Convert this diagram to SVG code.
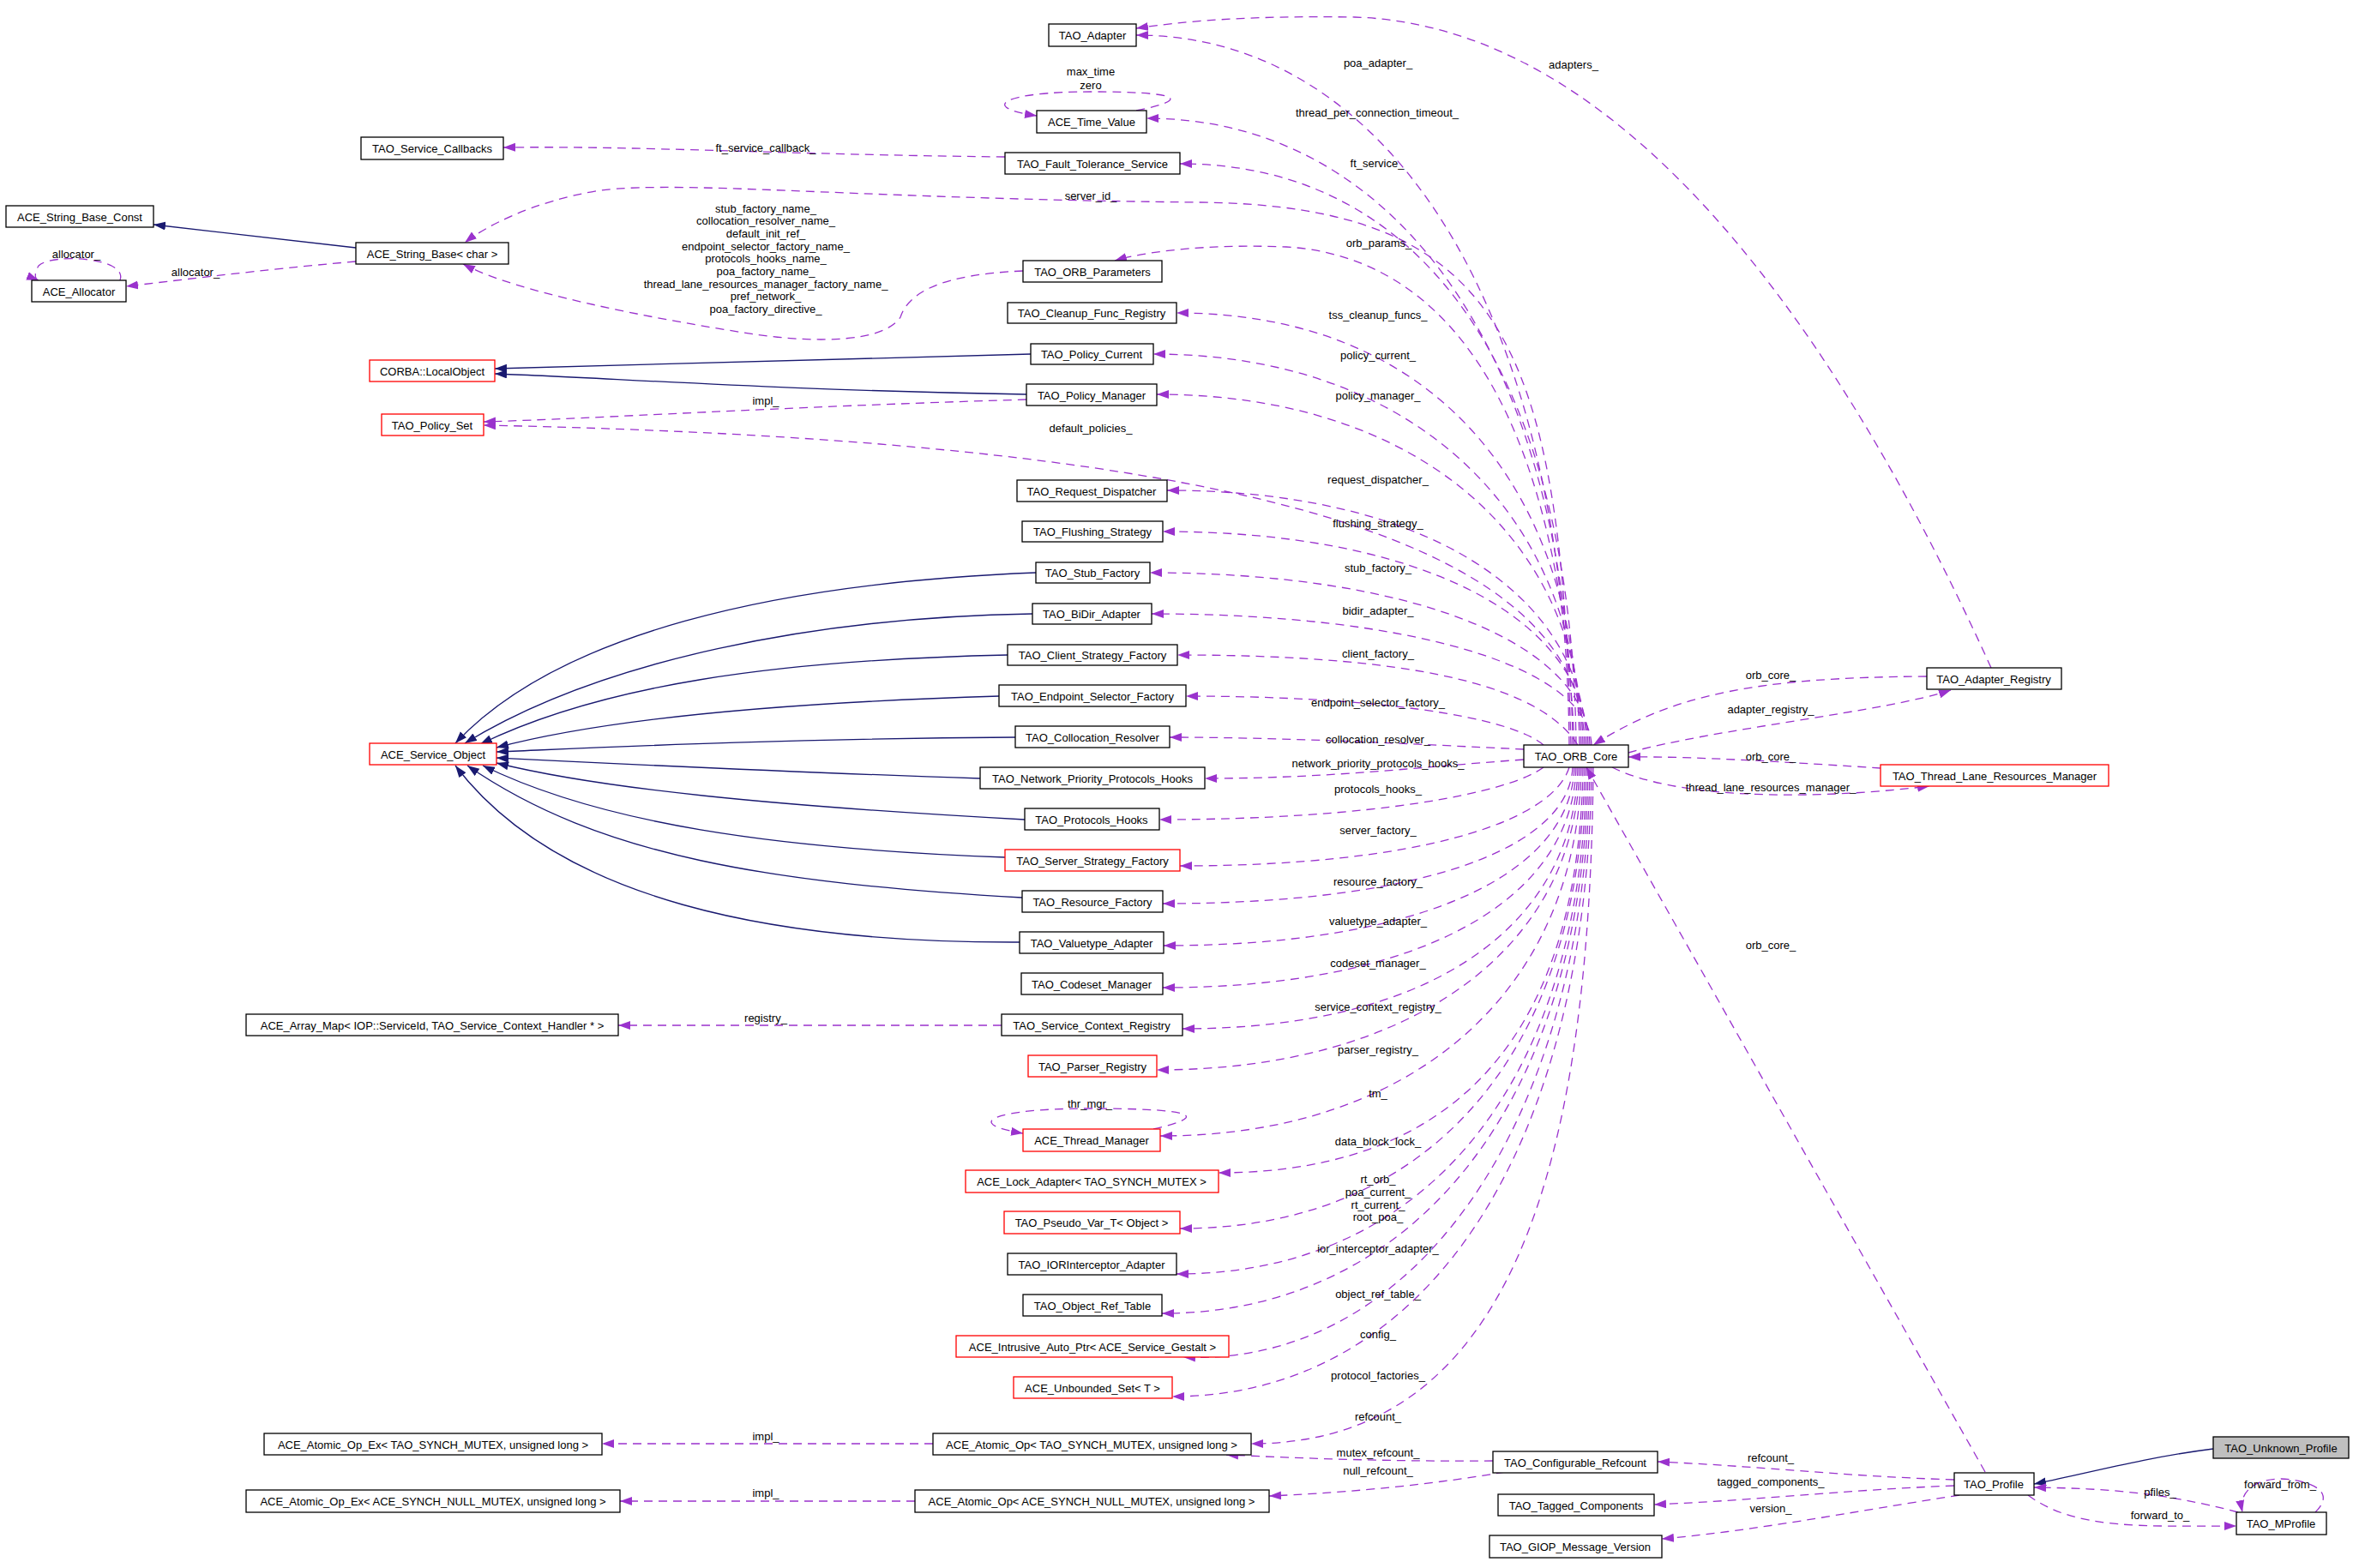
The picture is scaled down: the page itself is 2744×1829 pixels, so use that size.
<svg xmlns="http://www.w3.org/2000/svg" width="2744" height="1829" viewBox="0 0 2744 1829">
<style>
.n rect{fill:#fff;stroke:#000;stroke-width:1.3}
.r rect{stroke:#f00}
.g rect{fill:#bfbfbf}
text{font-family:"Liberation Sans",Arial,sans-serif;font-size:13px;fill:#000}
.n text{text-anchor:middle}
.l{text-anchor:middle}
.d{fill:none;stroke:#9a32cd;stroke-width:1.3;stroke-dasharray:10,7;marker-end:url(#pa)}
.s{fill:none;stroke:#191970;stroke-width:1.3;marker-end:url(#na)}
</style>
<defs>
<marker id="pa" markerUnits="userSpaceOnUse" markerWidth="15" markerHeight="11" refX="14" refY="5" orient="auto"><path d="M0,0 L14,5 L0,10 z" fill="#9a32cd"/></marker>
<marker id="na" markerUnits="userSpaceOnUse" markerWidth="15" markerHeight="11" refX="14" refY="5" orient="auto"><path d="M0,0 L14,5 L0,10 z" fill="#191970"/></marker>
</defs>
<rect width="2744" height="1829" fill="#fff"/>
<g id="edges">
<!-- inheritance -->
<path class="s" d="M415,289 L179,262"/>
<path class="s" d="M1202,413 C900,420 700,428 577,430"/>
<path class="s" d="M1197,460 C900,455 700,440 577,436"/>
<path class="s" d="M1208,668 C900,680 650,740 531,867"/>
<path class="s" d="M1204,716 C950,720 700,770 542,867"/>
<path class="s" d="M1175,764 C900,770 700,800 560,868"/>
<path class="s" d="M1165,812 C900,820 700,840 579,872"/>
<path class="s" d="M1184,860 C900,862 700,872 579,877"/>
<path class="s" d="M1143,908 C900,900 700,890 579,884"/>
<path class="s" d="M1195,956 C900,940 700,920 579,890"/>
<path class="s" d="M1172,1000 C900,990 700,960 563,893"/>
<path class="s" d="M1192,1047 C900,1030 700,1000 545,893"/>
<path class="s" d="M1189,1099 C900,1100 650,1050 531,893"/>
<path class="s" d="M2581,1690 C2500,1700 2420,1722 2372,1731"/>
<!-- ORB_Core members above -->
<path class="d" d="M1830,869 C1826,372 1625,41 1325,41"/>
<path class="d" d="M1834,869 C1830,430 1637,138 1337,138"/>
<path class="d" d="M1838,869 C1834,462 1676,191 1376,191"/>
<path class="d" d="M1832,869 C1820,400 1750,240 1400,236 C1000,232 800,210 700,222 C620,235 565,265 542,283"/>
<path class="d" d="M1836,869 C1820,500 1700,300 1500,288 C1400,284 1330,295 1300,304"/>
<path class="d" d="M1842,869 C1838,567 1672,365 1372,365"/>
<path class="d" d="M1844,869 C1840,595 1645,413 1345,413"/>
<path class="d" d="M1846,869 C1842,624 1649,460 1349,460"/>
<path class="d" d="M1848,869 C1844,645 1500,515 564,496"/>
<path class="d" d="M1850,869 C1846,691 1661,572 1361,572"/>
<path class="d" d="M1852,869 C1848,720 1656,620 1356,620"/>
<path class="d" d="M1854,869 C1850,748 1641,668 1341,668"/>
<path class="d" d="M1856,869 C1852,777 1643,716 1343,716"/>
<path class="d" d="M1840,869 C1800,806 1673,764 1373,764"/>
<path class="d" d="M1800,869 C1760,835 1600,812 1383,812"/>
<path class="d" d="M1777,874 C1650,868 1500,860 1364,860"/>
<path class="d" d="M1777,886 C1650,895 1550,908 1405,908"/>
<!-- below -->
<path class="d" d="M1800,895 C1760,925 1600,956 1352,956"/>
<path class="d" d="M1830,895 C1810,960 1650,1010 1376,1010"/>
<path class="d" d="M1834,895 C1830,990 1656,1054 1356,1054"/>
<path class="d" d="M1836,895 C1832,1020 1657,1103 1357,1103"/>
<path class="d" d="M1838,895 C1834,1050 1656,1152 1356,1152"/>
<path class="d" d="M1840,895 C1836,1073 1679,1200 1379,1200"/>
<path class="d" d="M1842,895 C1838,1104 1649,1248 1349,1248"/>
<path class="d" d="M1844,895 C1840,1151 1653,1325 1353,1325"/>
<path class="d" d="M1846,895 C1842,1179 1721,1368 1421,1368"/>
<path class="d" d="M1848,895 C1844,1218 1676,1433 1376,1433"/>
<path class="d" d="M1850,895 C1846,1250 1672,1486 1372,1486"/>
<path class="d" d="M1852,895 C1848,1277 1655,1532 1355,1532"/>
<path class="d" d="M1854,895 C1850,1308 1650,1595 1380,1583"/>
<path class="d" d="M1856,895 C1852,1335 1667,1629 1367,1629"/>
<path class="d" d="M1858,895 C1854,1368 1759,1684 1459,1684"/>
<!-- others -->
<path class="d" d="M1899,878 C2000,850 2200,830 2275,805"/>
<path class="d" d="M2247,789 C2050,790 1950,810 1858,869"/>
<path class="d" d="M2322,779 C2150,400 1900,30 1580,20 C1450,18 1380,25 1325,33"/>
<path class="d" d="M2193,896 C2100,890 1980,882 1899,883"/>
<path class="d" d="M1880,895 C1950,930 2100,935 2250,917"/>
<path class="d" d="M2315,1717 L1850,895"/>
<path class="d" d="M1741,1704 C1600,1705 1500,1700 1430,1697"/>
<path class="d" d="M1755,1717 C1650,1735 1550,1742 1480,1745"/>
<path class="d" d="M1088,1684 L702,1684"/>
<path class="d" d="M1067,1751 L723,1751"/>
<path class="d" d="M1168,1196 L721,1196"/>
<path class="d" d="M1172,183 C900,180 750,170 587,172"/>
<path class="d" d="M1197,466 C900,475 700,488 564,492"/>
<path class="d" d="M1193,316 C1100,320 1060,340 1050,370 C1030,400 950,400 880,390 C750,370 600,340 540,308"/>
<path class="d" d="M415,305 C300,315 200,328 147,334"/>
<path class="d" d="M140,327 C150,300 60,295 45,310 C40,318 40,325 45,327"/>
<path class="d" d="M1325,129 C1395,115 1370,107 1272,107 C1170,107 1140,125 1209,135"/>
<path class="d" d="M1345,1317 C1420,1300 1380,1293 1271,1293 C1160,1293 1120,1310 1193,1322"/>
<path class="d" d="M2279,1726 C2150,1722 2050,1710 1933,1705"/>
<path class="d" d="M2279,1733 C2150,1738 2050,1750 1929,1755"/>
<path class="d" d="M2285,1744 C2150,1765 2050,1785 1938,1795"/>
<path class="d" d="M2610,1764 C2520,1740 2450,1736 2372,1735"/>
<path class="d" d="M2365,1744 C2420,1785 2500,1780 2608,1780"/>
<path class="d" d="M2700,1764 C2730,1735 2680,1725 2660,1725 C2630,1725 2610,1740 2615,1764"/>
<!-- labels -->
<text class="l" x="1607" y="78">poa_adapter_</text>
<text class="l" x="1835" y="80">adapters_</text>
<text class="l" x="1272" y="88">max_time</text>
<text class="l" x="1272" y="104">zero</text>
<text class="l" x="1606" y="136">thread_per_connection_timeout_</text>
<text class="l" x="893" y="177">ft_service_callback_</text>
<text class="l" x="1606" y="195">ft_service_</text>
<text class="l" x="1272" y="233">server_id_</text>
<text class="l" x="893" y="248">stub_factory_name_</text>
<text class="l" x="893" y="262">collocation_resolver_name_</text>
<text class="l" x="893" y="277">default_init_ref_</text>
<text class="l" x="893" y="292">endpoint_selector_factory_name_</text>
<text class="l" x="893" y="306">protocols_hooks_name_</text>
<text class="l" x="893" y="321">poa_factory_name_</text>
<text class="l" x="893" y="336">thread_lane_resources_manager_factory_name_</text>
<text class="l" x="893" y="350">pref_network_</text>
<text class="l" x="893" y="365">poa_factory_directive_</text>
<text class="l" x="1608" y="288">orb_params_</text>
<text class="l" x="89" y="301">allocator_</text>
<text class="l" x="228" y="322">allocator_</text>
<text class="l" x="1607" y="372">tss_cleanup_funcs_</text>
<text class="l" x="1607" y="419">policy_current_</text>
<text class="l" x="1607" y="466">policy_manager_</text>
<text class="l" x="893" y="472">impl_</text>
<text class="l" x="1272" y="504">default_policies_</text>
<text class="l" x="1607" y="564">request_dispatcher_</text>
<text class="l" x="1607" y="615">flushing_strategy_</text>
<text class="l" x="1607" y="667">stub_factory_</text>
<text class="l" x="1607" y="717">bidir_adapter_</text>
<text class="l" x="1607" y="767">client_factory_</text>
<text class="l" x="1607" y="824">endpoint_selector_factory_</text>
<text class="l" x="1607" y="867">collocation_resolver_</text>
<text class="l" x="1607" y="895">network_priority_protocols_hooks_</text>
<text class="l" x="1607" y="925">protocols_hooks_</text>
<text class="l" x="1607" y="973">server_factory_</text>
<text class="l" x="1607" y="1033">resource_factory_</text>
<text class="l" x="1607" y="1079">valuetype_adapter_</text>
<text class="l" x="1607" y="1128">codeset_manager_</text>
<text class="l" x="1607" y="1179">service_context_registry_</text>
<text class="l" x="893" y="1192">registry_</text>
<text class="l" x="1607" y="1229">parser_registry_</text>
<text class="l" x="1607" y="1280">tm_</text>
<text class="l" x="1271" y="1292">thr_mgr_</text>
<text class="l" x="1607" y="1336">data_block_lock_</text>
<text class="l" x="1607" y="1380">rt_orb_</text>
<text class="l" x="1607" y="1395">poa_current_</text>
<text class="l" x="1607" y="1410">rt_current_</text>
<text class="l" x="1607" y="1424">root_poa_</text>
<text class="l" x="1607" y="1461">ior_interceptor_adapter_</text>
<text class="l" x="1607" y="1514">object_ref_table_</text>
<text class="l" x="1607" y="1561">config_</text>
<text class="l" x="1607" y="1609">protocol_factories_</text>
<text class="l" x="1607" y="1657">refcount_</text>
<text class="l" x="893" y="1680">impl_</text>
<text class="l" x="1607" y="1699">mutex_refcount_</text>
<text class="l" x="1607" y="1720">null_refcount_</text>
<text class="l" x="893" y="1746">impl_</text>
<text class="l" x="2065" y="792">orb_core_</text>
<text class="l" x="2065" y="832">adapter_registry_</text>
<text class="l" x="2065" y="887">orb_core_</text>
<text class="l" x="2065" y="923">thread_lane_resources_manager_</text>
<text class="l" x="2065" y="1107">orb_core_</text>
<text class="l" x="2065" y="1705">refcount_</text>
<text class="l" x="2065" y="1733">tagged_components_</text>
<text class="l" x="2065" y="1764">version_</text>
<text class="l" x="2519" y="1745">pfiles_</text>
<text class="l" x="2519" y="1772">forward_to_</text>
<text class="l" x="2659" y="1736">forward_from_</text>
</g>
<g id="TAO_Adapter" class="n"><rect x="1223" y="28" width="102" height="26"/><text x="1274" y="46">TAO_Adapter</text></g>
<g id="ACE_Time_Value" class="n"><rect x="1209" y="129" width="128" height="26"/><text x="1273" y="147">ACE_Time_Value</text></g>
<g id="TAO_Service_Callbacks" class="n"><rect x="421" y="160" width="166" height="26"/><text x="504" y="178">TAO_Service_Callbacks</text></g>
<g id="TAO_Fault_Tolerance_Service" class="n"><rect x="1172" y="178" width="204" height="25"/><text x="1274" y="196">TAO_Fault_Tolerance_Service</text></g>
<g id="ACE_String_Base_Const" class="n"><rect x="7" y="240" width="172" height="25"/><text x="93" y="258">ACE_String_Base_Const</text></g>
<g id="ACE_String_Base_char" class="n"><rect x="415" y="283" width="178" height="25"/><text x="504" y="301">ACE_String_Base&lt; char &gt;</text></g>
<g id="ACE_Allocator" class="n"><rect x="37" y="327" width="110" height="25"/><text x="92" y="345">ACE_Allocator</text></g>
<g id="TAO_ORB_Parameters" class="n"><rect x="1193" y="304" width="162" height="25"/><text x="1274" y="322">TAO_ORB_Parameters</text></g>
<g id="TAO_Cleanup_Func_Registry" class="n"><rect x="1175" y="353" width="197" height="24"/><text x="1273" y="370">TAO_Cleanup_Func_Registry</text></g>
<g id="CORBA_LocalObject" class="n r"><rect x="431" y="420" width="146" height="25"/><text x="504" y="438">CORBA::LocalObject</text></g>
<g id="TAO_Policy_Current" class="n"><rect x="1202" y="401" width="143" height="24"/><text x="1273" y="418">TAO_Policy_Current</text></g>
<g id="TAO_Policy_Manager" class="n"><rect x="1197" y="448" width="152" height="25"/><text x="1273" y="466">TAO_Policy_Manager</text></g>
<g id="TAO_Policy_Set" class="n r"><rect x="445" y="483" width="119" height="25"/><text x="504" y="501">TAO_Policy_Set</text></g>
<g id="TAO_Request_Dispatcher" class="n"><rect x="1186" y="560" width="175" height="25"/><text x="1273" y="578">TAO_Request_Dispatcher</text></g>
<g id="TAO_Flushing_Strategy" class="n"><rect x="1192" y="608" width="164" height="24"/><text x="1274" y="625">TAO_Flushing_Strategy</text></g>
<g id="TAO_Stub_Factory" class="n"><rect x="1208" y="656" width="133" height="24"/><text x="1274" y="673">TAO_Stub_Factory</text></g>
<g id="TAO_BiDir_Adapter" class="n"><rect x="1204" y="704" width="139" height="24"/><text x="1273" y="721">TAO_BiDir_Adapter</text></g>
<g id="TAO_Client_Strategy_Factory" class="n"><rect x="1175" y="752" width="198" height="24"/><text x="1274" y="769">TAO_Client_Strategy_Factory</text></g>
<g id="TAO_Endpoint_Selector_Factory" class="n"><rect x="1165" y="799" width="218" height="25"/><text x="1274" y="817">TAO_Endpoint_Selector_Factory</text></g>
<g id="ACE_Service_Object" class="n r"><rect x="431" y="867" width="148" height="25"/><text x="505" y="885">ACE_Service_Object</text></g>
<g id="TAO_Collocation_Resolver" class="n"><rect x="1184" y="847" width="180" height="25"/><text x="1274" y="865">TAO_Collocation_Resolver</text></g>
<g id="TAO_Network_Priority_Protocols_Hooks" class="n"><rect x="1143" y="895" width="262" height="25"/><text x="1274" y="913">TAO_Network_Priority_Protocols_Hooks</text></g>
<g id="TAO_Protocols_Hooks" class="n"><rect x="1195" y="943" width="157" height="25"/><text x="1273" y="961">TAO_Protocols_Hooks</text></g>
<g id="TAO_Server_Strategy_Factory" class="n r"><rect x="1172" y="991" width="204" height="25"/><text x="1274" y="1009">TAO_Server_Strategy_Factory</text></g>
<g id="TAO_ORB_Core" class="n"><rect x="1777" y="869" width="122" height="26"/><text x="1838" y="887">TAO_ORB_Core</text></g>
<g id="TAO_Resource_Factory" class="n"><rect x="1192" y="1039" width="164" height="25"/><text x="1274" y="1057">TAO_Resource_Factory</text></g>
<g id="TAO_Valuetype_Adapter" class="n"><rect x="1189" y="1087" width="168" height="25"/><text x="1273" y="1105">TAO_Valuetype_Adapter</text></g>
<g id="TAO_Codeset_Manager" class="n"><rect x="1191" y="1135" width="165" height="25"/><text x="1273" y="1153">TAO_Codeset_Manager</text></g>
<g id="ACE_Array_Map" class="n"><rect x="287" y="1183" width="434" height="25"/><text x="504" y="1201">ACE_Array_Map&lt; IOP::ServiceId, TAO_Service_Context_Handler * &gt;</text></g>
<g id="TAO_Service_Context_Registry" class="n"><rect x="1168" y="1183" width="211" height="25"/><text x="1273" y="1201">TAO_Service_Context_Registry</text></g>
<g id="TAO_Parser_Registry" class="n r"><rect x="1199" y="1231" width="150" height="25"/><text x="1274" y="1249">TAO_Parser_Registry</text></g>
<g id="ACE_Thread_Manager" class="n r"><rect x="1193" y="1317" width="160" height="26"/><text x="1273" y="1335">ACE_Thread_Manager</text></g>
<g id="ACE_Lock_Adapter" class="n r"><rect x="1126" y="1365" width="295" height="26"/><text x="1273" y="1383">ACE_Lock_Adapter&lt; TAO_SYNCH_MUTEX &gt;</text></g>
<g id="TAO_Pseudo_Var_T" class="n r"><rect x="1171" y="1413" width="205" height="26"/><text x="1273" y="1431">TAO_Pseudo_Var_T&lt; Object &gt;</text></g>
<g id="TAO_IORInterceptor_Adapter" class="n"><rect x="1175" y="1462" width="197" height="25"/><text x="1273" y="1480">TAO_IORInterceptor_Adapter</text></g>
<g id="TAO_Object_Ref_Table" class="n"><rect x="1193" y="1510" width="162" height="25"/><text x="1274" y="1528">TAO_Object_Ref_Table</text></g>
<g id="ACE_Intrusive_Auto_Ptr" class="n r"><rect x="1115" y="1558" width="318" height="25"/><text x="1274" y="1576">ACE_Intrusive_Auto_Ptr&lt; ACE_Service_Gestalt &gt;</text></g>
<g id="ACE_Unbounded_Set" class="n r"><rect x="1182" y="1606" width="185" height="25"/><text x="1274" y="1624">ACE_Unbounded_Set&lt; T &gt;</text></g>
<g id="ACE_Atomic_Op_Ex_TAO" class="n"><rect x="308" y="1672" width="394" height="25"/><text x="505" y="1690">ACE_Atomic_Op_Ex&lt; TAO_SYNCH_MUTEX, unsigned long &gt;</text></g>
<g id="ACE_Atomic_Op_TAO" class="n"><rect x="1088" y="1672" width="371" height="25"/><text x="1273" y="1690">ACE_Atomic_Op&lt; TAO_SYNCH_MUTEX, unsigned long &gt;</text></g>
<g id="ACE_Atomic_Op_Ex_NULL" class="n"><rect x="287" y="1738" width="436" height="26"/><text x="505" y="1756">ACE_Atomic_Op_Ex&lt; ACE_SYNCH_NULL_MUTEX, unsigned long &gt;</text></g>
<g id="ACE_Atomic_Op_NULL" class="n"><rect x="1067" y="1738" width="413" height="26"/><text x="1273" y="1756">ACE_Atomic_Op&lt; ACE_SYNCH_NULL_MUTEX, unsigned long &gt;</text></g>
<g id="TAO_Configurable_Refcount" class="n"><rect x="1741" y="1693" width="192" height="25"/><text x="1837" y="1711">TAO_Configurable_Refcount</text></g>
<g id="TAO_Tagged_Components" class="n"><rect x="1747" y="1743" width="182" height="25"/><text x="1838" y="1761">TAO_Tagged_Components</text></g>
<g id="TAO_GIOP_Message_Version" class="n"><rect x="1737" y="1791" width="201" height="26"/><text x="1837" y="1809">TAO_GIOP_Message_Version</text></g>
<g id="TAO_Adapter_Registry" class="n"><rect x="2247" y="779" width="157" height="25"/><text x="2325" y="797">TAO_Adapter_Registry</text></g>
<g id="TAO_Thread_Lane_Resources_Manager" class="n r"><rect x="2193" y="892" width="266" height="25"/><text x="2326" y="910">TAO_Thread_Lane_Resources_Manager</text></g>
<g id="TAO_Profile" class="n"><rect x="2279" y="1718" width="93" height="26"/><text x="2325" y="1736">TAO_Profile</text></g>
<g id="TAO_Unknown_Profile" class="n g"><rect x="2581" y="1676" width="158" height="25"/><text x="2660" y="1694">TAO_Unknown_Profile</text></g>
<g id="TAO_MProfile" class="n"><rect x="2608" y="1764" width="105" height="26"/><text x="2660" y="1782">TAO_MProfile</text></g>
</svg>
